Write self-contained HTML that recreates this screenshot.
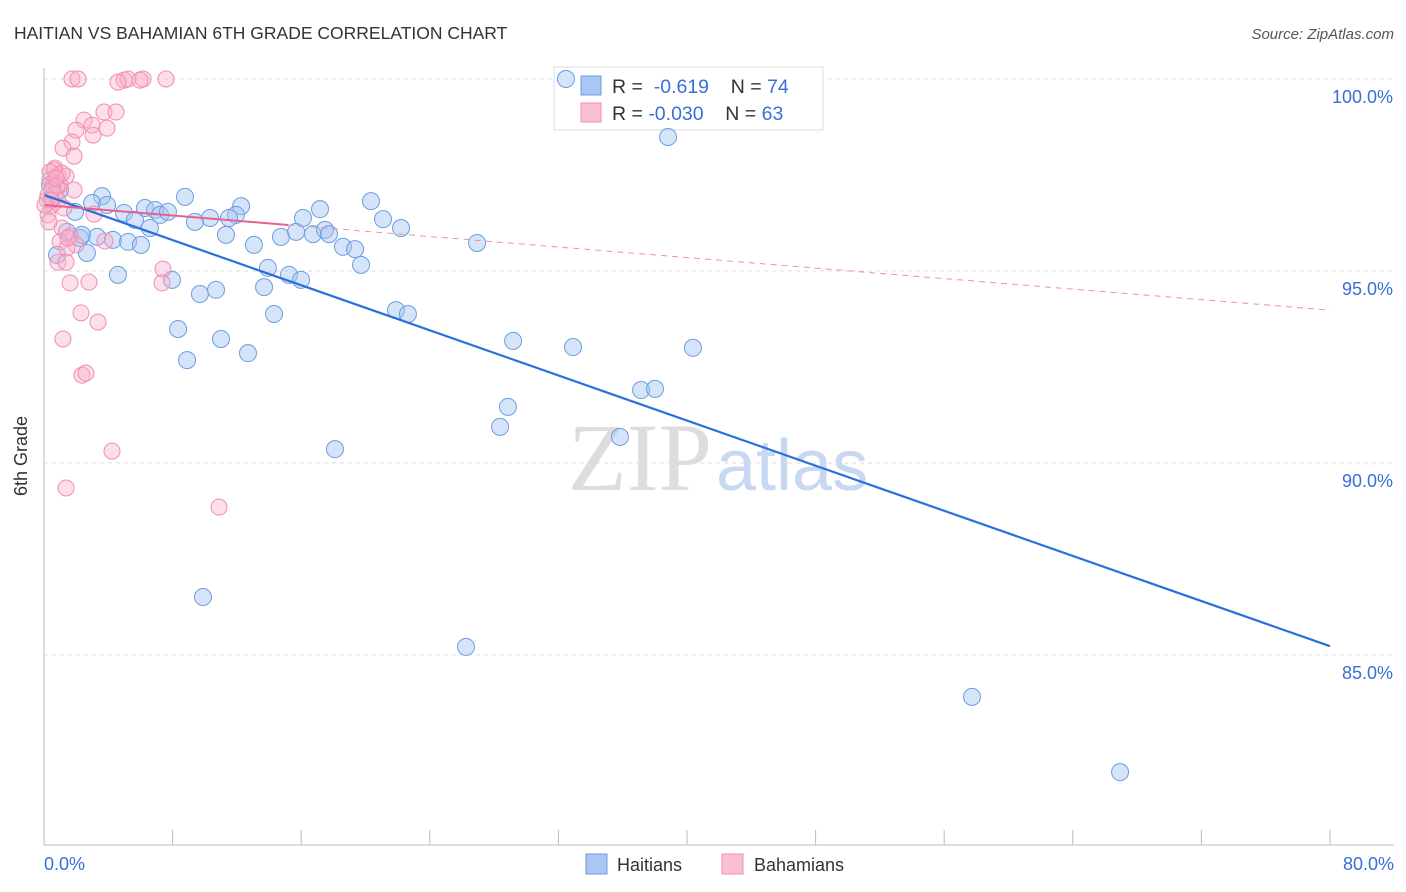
<!DOCTYPE html>
<html><head><meta charset="utf-8"><style>
body{margin:0;background:#fff;font-family:"Liberation Sans",sans-serif;}
svg{display:block}
</style></head><body>
<svg id="chart" width="1406" height="892" xmlns="http://www.w3.org/2000/svg">
<text x="14" y="39" font-size="17.5" fill="#333">HAITIAN VS BAHAMIAN 6TH GRADE CORRELATION CHART</text>
<text x="1394" y="39" font-size="15" fill="#555" font-style="italic" text-anchor="end">Source: ZipAtlas.com</text>
<g id="grid"></g>
<text x="712" y="490" font-size="96" font-family="Liberation Serif,serif" fill="#ddd" text-anchor="end">ZIP</text>
<text x="716" y="490" font-size="72" fill="#c8d8f0">atlas</text>
<g>
<rect x="554" y="67" width="269" height="63" fill="#fff" stroke="#ddd"/>
<rect x="581" y="76" width="20" height="19" fill="#a9c7f2" stroke="#6b9ee0"/>
<rect x="581" y="103" width="20" height="19" fill="#f9c0d3" stroke="#f08db0"/>
<text x="612" y="93" font-size="19.5" fill="#333">R = <tspan fill="#3a6fd8">&#160;-0.619</tspan>&#160;&#160;&#160;&#160;N = <tspan fill="#3a6fd8">74</tspan></text>
<text x="612" y="120" font-size="19.5" fill="#333">R = <tspan fill="#3a6fd8">-0.030</tspan>&#160;&#160;&#160;&#160;N = <tspan fill="#3a6fd8">63</tspan></text>
</g>
<g id="points"></g>
<g id="trends"></g>
<line x1="44" y1="68" x2="44" y2="845" stroke="#bbb"/>
<line x1="44" y1="845" x2="1394" y2="845" stroke="#bbb"/>
<g id="ticks"></g>
<text x="27" y="456" font-size="18" fill="#333" text-anchor="middle" transform="rotate(-90 27 456)">6th Grade</text>
<text x="44" y="870" font-size="18" fill="#3a6fd8">0.0%</text>
<text x="1394" y="870" font-size="18" fill="#3a6fd8" text-anchor="end">80.0%</text>
<g>
<rect x="586" y="854" width="21" height="20" fill="#a9c7f2" stroke="#6b9ee0"/>
<text x="617" y="871" font-size="18" fill="#333">Haitians</text>
<rect x="722" y="854" width="21" height="20" fill="#f9c0d3" stroke="#f08db0"/>
<text x="754" y="871" font-size="18" fill="#333">Bahamians</text>
</g>
</svg>
<script>
const yTicks=[100,95,90,85];
const yTickLabels=["100.0%","95.0%","90.0%","85.0%"];
const xTicks=[0,8,16,24,32,40,48,56,64,72,80];
const haitiansX=[32.47,38.82,0.37,1.0,3.61,2.99,3.92,1.93,4.98,6.28,6.91,7.22,7.71,8.77,12.26,11.94,11.51,10.33,9.39,6.59,5.66,11.32,13.06,13.93,15.24,15.99,14.74,15.68,16.11,17.17,16.73,17.48,17.73,18.60,19.35,19.72,20.34,21.09,22.21,26.94,13.69,14.31,9.70,10.70,7.96,4.60,8.34,8.90,11.01,12.69,21.90,22.64,29.18,32.91,40.37,37.14,38.01,28.86,28.37,35.83,18.10,9.89,26.25,57.73,66.94,0.81,2.67,2.24,3.30,4.29,5.23,6.03,1.43,2.36];
const haitiansY=[100,98.49,97.24,97.11,96.95,96.77,96.72,96.54,96.51,96.64,96.59,96.46,96.54,96.93,96.69,96.46,96.38,96.38,96.28,96.12,96.33,95.94,95.68,95.08,94.90,94.77,95.89,96.02,96.38,96.61,95.96,96.07,95.96,95.63,95.57,95.16,96.82,96.35,96.12,95.73,94.58,93.88,94.40,94.51,94.77,94.90,93.49,92.68,93.23,92.86,93.98,93.88,93.18,93.02,93.00,91.90,91.93,91.46,90.94,90.68,90.36,86.51,85.21,83.91,81.95,95.42,95.47,95.86,95.89,95.81,95.76,95.68,96.02,95.94];
const bahamiansX=[1.74,2.12,4.98,5.23,6.16,7.59,4.60,5.97,3.73,4.48,2.49,2.99,1.99,3.92,3.05,1.74,1.18,1.87,0.68,0.87,1.37,0.37,0.56,0.25,1.87,0.87,0.50,0.25,3.11,1.12,1.62,1.00,1.99,1.43,3.79,0.87,1.37,7.40,1.62,2.80,7.34,2.30,3.36,1.18,2.36,2.61,4.23,1.37,10.89,0.62,1.00,0.19,0.68,1.24,0.31,1.49,0.81,1.12,0.37,0.50,0.75,0.44,0.06];
const bahamiansY=[100,100,99.97,100,100,100,99.92,99.97,99.14,99.14,98.93,98.80,98.67,98.72,98.54,98.36,98.20,97.99,97.68,97.50,97.47,97.37,97.21,96.98,97.11,96.85,96.72,96.46,96.48,96.12,95.91,95.76,95.68,95.60,95.78,95.23,95.23,95.05,94.69,94.71,94.69,93.91,93.67,93.23,92.29,92.34,90.31,89.35,88.85,97.63,97.24,96.85,96.98,96.64,96.28,95.86,97.21,97.55,97.58,97.11,97.42,96.85,96.72];
const haitiansTrend=[96.98,85.23];
const bahamiansTrend=[96.72,93.98];
const bahamiansSolidEnd=15.2;
const NS="http://www.w3.org/2000/svg";
const xs=v=>44+v*(1286/80);
const ys=v=>79+(100-v)*38.4;
function mk(t,a,p){const e=document.createElementNS(NS,t);for(const k in a)e.setAttribute(k,a[k]);p.appendChild(e);return e;}
const grid=document.getElementById('grid'),ticks=document.getElementById('ticks');
yTicks.forEach((v,i)=>{
 const l=mk('line',{x1:44,x2:1394,y1:ys(v),y2:ys(v),stroke:'#ddd','stroke-dasharray':'4,4'},grid);
 
 
 const t=mk('text',{x:1393,y:ys(v)+24,'font-size':18,fill:'#3a6fd8','text-anchor':'end'},ticks);
 t.textContent=yTickLabels[i];
 
 
});
xTicks.forEach(v=>{
 const l=mk('line',{x1:xs(v),x2:xs(v),y1:830,y2:845,stroke:'#bbb'},ticks);
 
 
});
const pts=document.getElementById('points');
haitiansX.forEach((x,i)=>{
 const c=mk('circle',{cx:xs(x),cy:ys(haitiansY[i]),r:8.5,fill:'rgba(164,196,242,0.45)',stroke:'#6b9ee0','stroke-width':1},pts);
 
 
});
bahamiansX.forEach((x,i)=>{
 const c=mk('circle',{cx:xs(x),cy:ys(bahamiansY[i]),r:8,fill:'rgba(248,176,202,0.4)',stroke:'#f08db0','stroke-width':1},pts);
 
 
});
const tr=document.getElementById('trends');
const hl=mk('line',{x1:xs(0),y1:ys(haitiansTrend[0]),x2:xs(80),y2:ys(haitiansTrend[1]),stroke:'#2a6fdb','stroke-width':2.2},tr);


const bm=v=>bahamiansTrend[0]+(bahamiansTrend[1]-bahamiansTrend[0])*v/80;
const bd=mk('line',{x1:xs(bahamiansSolidEnd),y1:ys(bm(bahamiansSolidEnd)),x2:xs(80),y2:ys(bahamiansTrend[1]),stroke:'#f08db0','stroke-width':1,'stroke-dasharray':'6,5'},tr);


const bs=mk('line',{x1:xs(0),y1:ys(bahamiansTrend[0]),x2:xs(bahamiansSolidEnd),y2:ys(bm(bahamiansSolidEnd)),stroke:'#e8608f','stroke-width':2},tr);


</script>
</body></html>
